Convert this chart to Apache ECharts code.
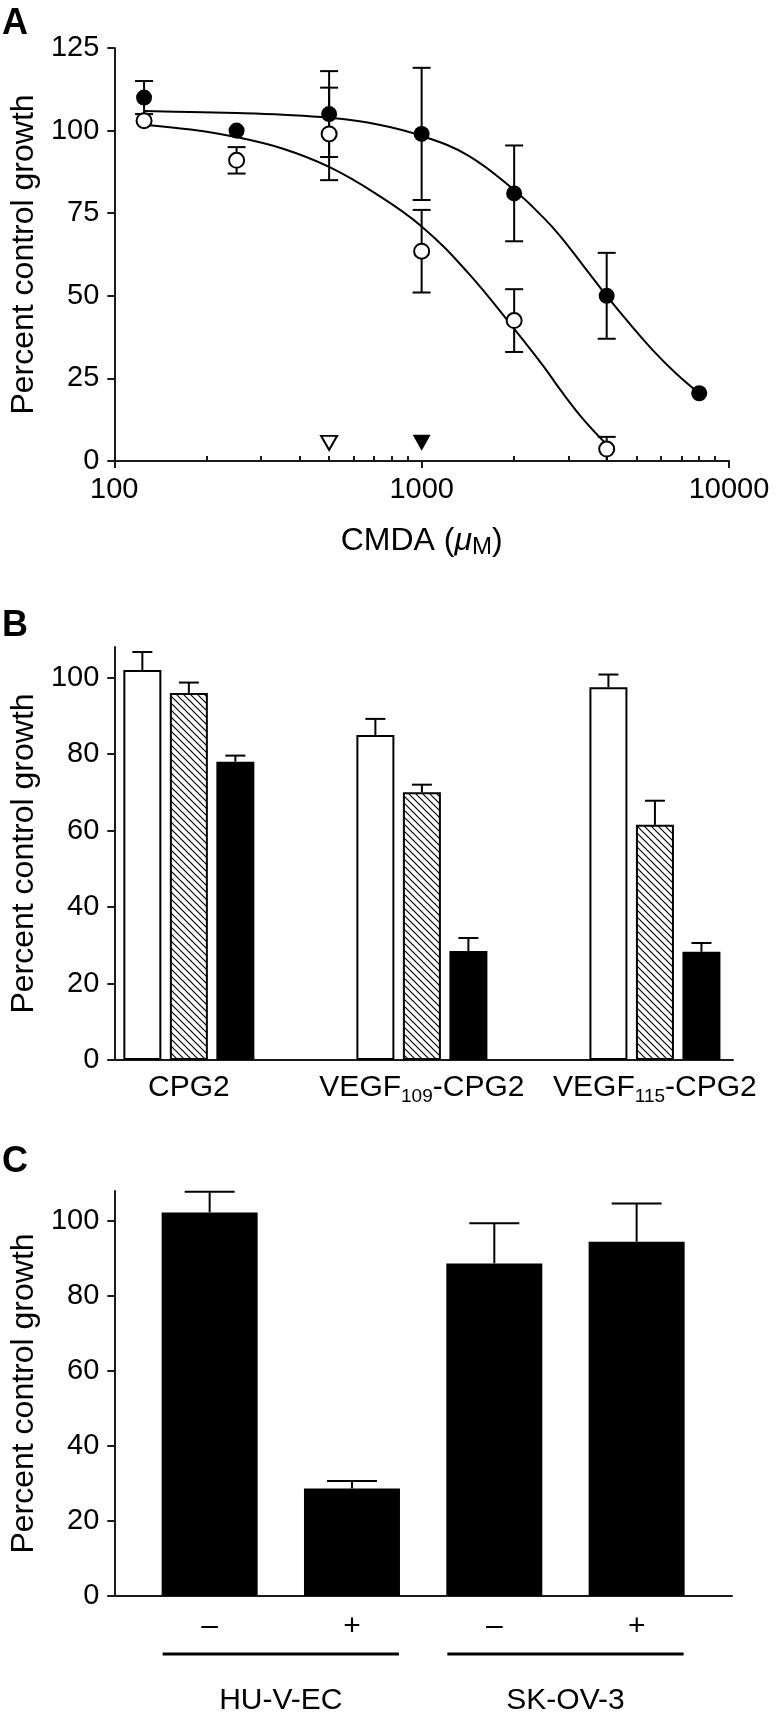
<!DOCTYPE html>
<html><head><meta charset="utf-8">
<script src="https://cdn.jsdelivr.net/npm/echarts@6/dist/echarts.min.js"></script>
<style>html,body{margin:0;padding:0;background:#fff}#c{width:776px;height:1720px}</style>
</head><body><div id="c"></div>
<script>
// ---------- Panel A data ----------
const concFilled = [125, 250, 500, 1000, 2000, 4000, 8000];
const growthFilled = [110, 100, 105, 99, 81, 50, 20.5];
const errFilled = [5, 0, 13, 20, 14.5, 13, 0];
const concOpen = [125, 250, 500, 1000, 2000, 4000];
const growthOpen = [103, 91, 99, 63.5, 42.5, 3.6];
const errOpen = [0, 4, 14, 12.5, 9.5, 3.7];
const fitFilledX = [125, 177, 250, 354, 500, 707, 1000, 1414, 2000, 2500, 2828, 3364, 4000, 4757, 5657, 6727, 8000];
const fitFilledY = [105.9, 105.6, 105.3, 104.8, 103.9, 102, 98.4, 92.5, 82, 73.5, 68, 59, 50, 41.5, 33.5, 26.5, 20.5];
const fitOpenX = [125, 177, 250, 354, 500, 707, 1000, 1414, 2000, 2500, 2828, 3364, 4000];
const fitOpenY = [101.8, 100.3, 98, 94.5, 89, 81, 71, 57, 40, 28.5, 21.5, 12.5, 5];
const triangleOpenConc = [500];
const triangleFilledConc = [1000];
const triangleLevel = 5.5;
const xTicksA = [100, 1000, 10000];
const xMinorTicksA = [200, 300, 400, 500, 600, 700, 800, 900, 2000, 3000, 4000, 5000, 6000, 7000, 8000, 9000];

// ---------- Panel B data ----------
const categoriesB = ['CPG2', 'VEGF_109-CPG2', 'VEGF_115-CPG2'];
const whiteB = [102, 85, 97.5];
const whiteErrB = [4.7, 4.2, 3.3];
const hatchB = [96, 70, 61.5];
const hatchErrB = [2.7, 2, 6.3];
const blackB = [78, 28.5, 28.3];
const blackErrB = [1.6, 3.4, 2.3];
const yTicksBC = [0, 20, 40, 60, 80, 100];

// ---------- Panel C data ----------
const treatC = ['–', '+', '–', '+'];
const valuesC = [102.3, 28.7, 88.7, 94.5];
const errC = [5.5, 2.0, 10.7, 10.2];
const groupsC = ['HU-V-EC', 'SK-OV-3'];
const groupSpanC = [[0, 1], [2, 3]];

// ---------- styling ----------
const FONT = "'Liberation Sans', Arial, Helvetica, sans-serif";
const AX = '#1a1a1a';
const TICK_FS = 29;
const BAR_W_B = 38, BAR_GAP_B = 0.224;

function makeHatch() {
  const s = 7;
  const c = document.createElement('canvas');
  c.width = s; c.height = s;
  const g = c.getContext('2d');
  g.fillStyle = '#fff'; g.fillRect(0, 0, s, s);
  g.strokeStyle = '#000'; g.lineWidth = 1.2;
  g.beginPath();
  for (let k = -1; k <= 1; k++) { g.moveTo(k * s - 1, -1); g.lineTo(k * s + s + 1, s + 1); }
  g.stroke();
  return c;
}
const hatch = makeHatch();

const zip = (a, b) => a.map((v, i) => [v, b[i]]);
const subLabel = s => '{n|' + s.replace(/_(\d+)/g, '}{s|$1}{n|') + '}';

function errRender(capHalf, twoSided, offsetFn) {
  return function (params, api) {
    const x = api.value(0), m = api.value(1), e = api.value(2);
    if (!(e > 0)) return null;
    const dx = offsetFn ? offsetFn(api) : 0;
    const lo = twoSided ? Math.max(0, m - e) : m;
    const pHi = api.coord([x, m + e]);
    const pLo = api.coord([x, lo]);
    const st = { stroke: '#000', lineWidth: 2 };
    const X = pHi[0] + dx;
    const ch = [
      { type: 'line', shape: { x1: X, y1: pHi[1], x2: X, y2: pLo[1] }, style: st },
      { type: 'line', shape: { x1: X - capHalf, y1: pHi[1], x2: X + capHalf, y2: pHi[1] }, style: st }
    ];
    if (twoSided && m - e > 0) {
      ch.push({ type: 'line', shape: { x1: X - capHalf, y1: pLo[1], x2: X + capHalf, y2: pLo[1] }, style: st });
    }
    return { type: 'group', children: ch };
  };
}

const yAxisCommon = (grid, extra) => Object.assign({
  gridIndex: grid, type: 'value',
  axisLine: { show: true, onZero: false, lineStyle: { color: AX, width: 2 } },
  axisTick: { show: true, length: 7, lineStyle: { color: AX, width: 2 } },
  axisLabel: { fontSize: TICK_FS, color: '#000', fontFamily: FONT, margin: 15 },
  splitLine: { show: false },
  name: 'Percent control growth', nameLocation: 'middle',
  nameTextStyle: { fontSize: 32, color: '#000', fontFamily: FONT }
}, extra);

const option = {
  animation: false,
  backgroundColor: '#fff',
  textStyle: { fontFamily: FONT },
  grid: [
    { left: 107, right: 47, top: 48, height: 413 },
    { left: 110, right: 43, top: 647, height: 413 },
    { left: 110, right: 44, top: 1191, height: 405 }
  ],
  graphic: [
    { type: 'text', left: 2, top: 6, style: { text: 'A', font: 'bold 36px ' + FONT, fill: '#000' } },
    { type: 'text', left: 2, top: 608, style: { text: 'B', font: 'bold 36px ' + FONT, fill: '#000' } },
    { type: 'text', left: 2, top: 1144, style: { text: 'C', font: 'bold 36px ' + FONT, fill: '#000' } }
  ],
  xAxis: [
    { gridIndex: 0, type: 'log', logBase: 10, min: 100, max: 10000,
      axisLine: { show: true, onZero: false, lineStyle: { color: AX, width: 2 } },
      axisTick: { show: true, customValues: xTicksA, length: 7, lineStyle: { color: AX, width: 2 } },
      axisLabel: { customValues: xTicksA, formatter: v => String(Math.round(v)), fontSize: TICK_FS, color: '#000', fontFamily: FONT, margin: 14 },
      splitLine: { show: false },
      name: '{n|CMDA (}{u|μ}{m|M}{n|)}', nameLocation: 'middle', nameGap: 62,
      nameTextStyle: { rich: {
        n: { fontSize: 32, fontFamily: FONT, color: '#000', lineHeight: 36 },
        u: { fontSize: 32, fontFamily: FONT, color: '#000', fontStyle: 'italic', lineHeight: 36 },
        m: { fontSize: 24, fontFamily: FONT, color: '#000', lineHeight: 30, verticalAlign: 'bottom' }
      } } },
    { gridIndex: 0, type: 'log', logBase: 10, min: 100, max: 10000,
      axisLine: { show: false },
      axisTick: { show: true, customValues: xMinorTicksA, length: 5, lineStyle: { color: AX, width: 2 } },
      axisLabel: { show: false }, splitLine: { show: false } },
    { gridIndex: 1, type: 'value', min: -0.32, max: 2.335,
      axisLine: { show: true, onZero: false, lineStyle: { color: AX, width: 2 } },
      axisTick: { show: false },
      axisLabel: { customValues: [0, 1, 2], formatter: v => subLabel(categoriesB[Math.round(v)]), margin: 10,
        rich: {
          n: { fontSize: 30, fontFamily: FONT, color: '#000', lineHeight: 36 },
          s: { fontSize: 19, fontFamily: FONT, color: '#000', lineHeight: 12, verticalAlign: 'bottom' }
        } },
      splitLine: { show: false } },
    { gridIndex: 2, type: 'value', min: -0.67, max: 3.67,
      axisLine: { show: true, onZero: false, lineStyle: { color: AX, width: 2 } },
      axisTick: { show: false },
      axisLabel: { customValues: [0, 1, 2, 3], formatter: v => treatC[Math.round(v)], fontSize: 30, color: '#000', fontFamily: FONT, margin: 16 },
      splitLine: { show: false } }
  ],
  yAxis: [
    yAxisCommon(0, { min: 0, max: 125, interval: 25, nameGap: 70 }),
    yAxisCommon(1, { min: 0, max: 108, nameGap: 73,
      axisTick: { show: true, customValues: yTicksBC, length: 7, lineStyle: { color: AX, width: 2 } },
      axisLabel: { customValues: yTicksBC, fontSize: TICK_FS, color: '#000', fontFamily: FONT, margin: 15 } }),
    yAxisCommon(2, { min: 0, max: 108, nameGap: 73,
      axisTick: { show: true, customValues: yTicksBC, length: 7, lineStyle: { color: AX, width: 2 } },
      axisLabel: { customValues: yTicksBC, fontSize: TICK_FS, color: '#000', fontFamily: FONT, margin: 15 } })
  ],
  series: [
    // Panel A curves
    { type: 'line', xAxisIndex: 0, yAxisIndex: 0, data: zip(fitFilledX, fitFilledY), smooth: 0.4, showSymbol: false,
      lineStyle: { color: '#000', width: 2 }, z: 2, silent: true },
    { type: 'line', xAxisIndex: 0, yAxisIndex: 0, data: zip(fitOpenX, fitOpenY), smooth: 0.4, showSymbol: false,
      lineStyle: { color: '#000', width: 2 }, z: 2, silent: true },
    // Panel A error bars
    { type: 'custom', xAxisIndex: 0, yAxisIndex: 0, z: 3, silent: true,
      data: concFilled.map((c, i) => [c, growthFilled[i], errFilled[i]]),
      encode: { x: 0, y: 1 }, renderItem: errRender(9, true) },
    { type: 'custom', xAxisIndex: 0, yAxisIndex: 0, z: 3, silent: true,
      data: concOpen.map((c, i) => [c, growthOpen[i], errOpen[i]]),
      encode: { x: 0, y: 1 }, renderItem: errRender(9, true) },
    // Panel A markers
    { type: 'scatter', xAxisIndex: 0, yAxisIndex: 0, z: 4, data: zip(concFilled, growthFilled),
      symbol: 'circle', symbolSize: 16, itemStyle: { color: '#000', opacity: 1 } },
    { type: 'scatter', xAxisIndex: 0, yAxisIndex: 0, z: 4, data: zip(concOpen, growthOpen),
      symbol: 'circle', symbolSize: 15, itemStyle: { color: '#fff', borderColor: '#000', borderWidth: 2, opacity: 1 } },
    { type: 'scatter', xAxisIndex: 0, yAxisIndex: 0, z: 4, data: triangleOpenConc.map(c => [c, triangleLevel]),
      symbol: 'triangle', symbolRotate: 180, symbolSize: [16, 14], itemStyle: { color: '#fff', borderColor: '#000', borderWidth: 2, opacity: 1 } },
    { type: 'scatter', xAxisIndex: 0, yAxisIndex: 0, z: 4, data: triangleFilledConc.map(c => [c, triangleLevel]),
      symbol: 'triangle', symbolRotate: 180, symbolSize: [18, 16], itemStyle: { color: '#000', opacity: 1 } },

    // Panel B bars
    { type: 'bar', xAxisIndex: 2, yAxisIndex: 1, barWidth: BAR_W_B, barGap: (BAR_GAP_B * 100) + '%',
      data: whiteB.map((v, i) => [i, v]), itemStyle: { color: '#fff', borderColor: '#000', borderWidth: 2 } },
    { type: 'bar', xAxisIndex: 2, yAxisIndex: 1, barWidth: BAR_W_B, barGap: (BAR_GAP_B * 100) + '%',
      data: hatchB.map((v, i) => [i, v]), itemStyle: { color: { image: hatch, repeat: 'repeat' }, borderColor: '#000', borderWidth: 2 } },
    { type: 'bar', xAxisIndex: 2, yAxisIndex: 1, barWidth: BAR_W_B, barGap: (BAR_GAP_B * 100) + '%',
      data: blackB.map((v, i) => [i, v]), itemStyle: { color: '#000', borderColor: '#000', borderWidth: 2 } },
    { type: 'custom', xAxisIndex: 2, yAxisIndex: 1, z: 5, silent: true,
      data: [].concat(
        whiteB.map((v, i) => [i, v, whiteErrB[i], 0]),
        hatchB.map((v, i) => [i, v, hatchErrB[i], 1]),
        blackB.map((v, i) => [i, v, blackErrB[i], 2])),
      encode: { x: 0, y: 1 },
      renderItem: errRender(10, false, api => (api.value(3) - 1) * BAR_W_B * (1 + BAR_GAP_B)) },

    // Panel C bars
    { type: 'bar', xAxisIndex: 3, yAxisIndex: 2, barWidth: 96,
      data: valuesC.map((v, i) => [i, v]), itemStyle: { color: '#000' } },
    { type: 'custom', xAxisIndex: 3, yAxisIndex: 2, z: 5, silent: true,
      data: valuesC.map((v, i) => [i, v, errC[i]]),
      encode: { x: 0, y: 1 }, renderItem: errRender(25, false) },
    // Panel C group brackets and names
    { type: 'custom', xAxisIndex: 3, yAxisIndex: 2, z: 5, silent: true, clip: false,
      data: groupSpanC.map(s => [s[0], s[1], 0]),
      encode: { x: [0, 1], y: 2 },
      renderItem: function (params, api) {
        const p0 = api.coord([api.value(0) - 0.33, 0]);
        const p1 = api.coord([api.value(1) + 0.33, 0]);
        const yl = p0[1] + 58;
        return { type: 'group', children: [
          { type: 'line', shape: { x1: p0[0], y1: yl, x2: p1[0], y2: yl }, style: { stroke: '#000', lineWidth: 3 } },
          { type: 'text', x: (p0[0] + p1[0]) / 2, y: p0[1] + 105,
            style: { text: groupsC[params.dataIndex], fill: '#000', font: '30px ' + FONT, textAlign: 'center', textVerticalAlign: 'middle' } }
        ] };
      } }
  ]
};

const chart = echarts.init(document.getElementById('c'), null, { renderer: 'canvas' });
chart.setOption(option);
</script></body></html>
